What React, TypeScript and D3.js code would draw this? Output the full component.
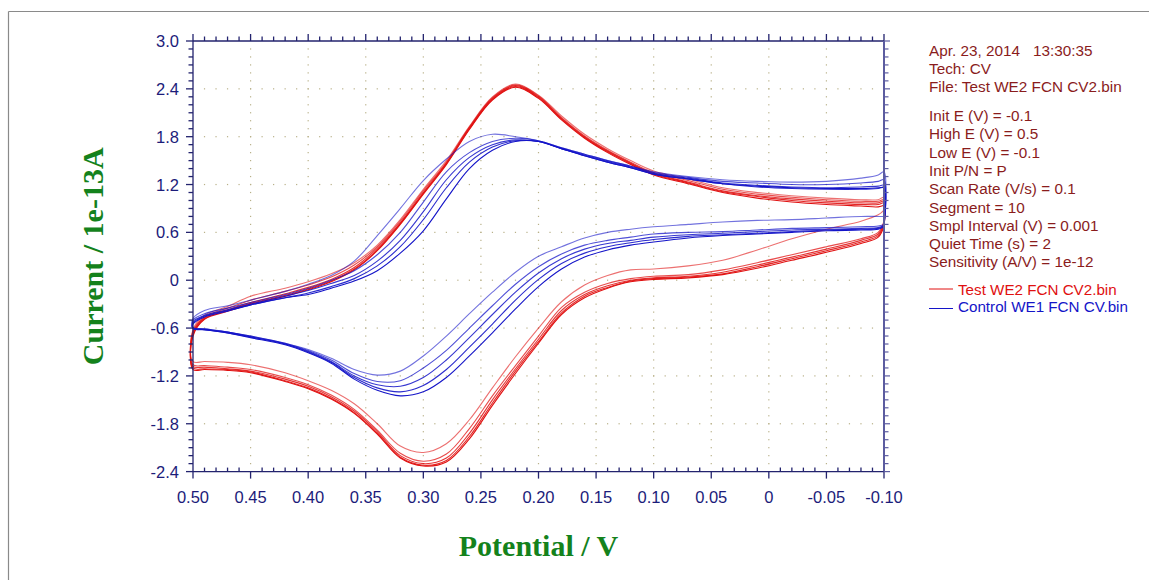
import React from "react";
import * as d3 from "d3";

// ---------- DATA ----------
const potentials = [0.5, 0.49, 0.47, 0.45, 0.42, 0.4, 0.38, 0.36, 0.34, 0.32, 0.3, 0.28, 0.26, 0.24, 0.22, 0.2, 0.18, 0.16, 0.14, 0.12, 0.1, 0.07, 0.04, 0.01, -0.02, -0.05, -0.08, -0.095, -0.1];

// Test WE2 (red) — upper branch (scan 0.5 -> -0.1), lower branch (scan -0.1 -> 0.5), both listed in potential order above
const redUpper1 = [-0.62, -0.44, -0.33, -0.2, -0.1, -0.02, 0.08, 0.22, 0.44, 0.76, 1.14, 1.5, 1.93, 2.3, 2.46, 2.32, 2.06, 1.83, 1.65, 1.5, 1.37, 1.27, 1.16, 1.1, 1.06, 1.03, 1.01, 1.01, 1.04];
const redUpper2 = [-0.64, -0.46, -0.35, -0.25, -0.14, -0.06, 0.04, 0.19, 0.42, 0.74, 1.12, 1.48, 1.92, 2.29, 2.45, 2.31, 2.04, 1.81, 1.63, 1.48, 1.35, 1.25, 1.14, 1.08, 1.04, 1.01, 0.99, 0.99, 1.01];
const redUpper3 = [-0.66, -0.47, -0.37, -0.28, -0.17, -0.09, 0.01, 0.16, 0.4, 0.72, 1.1, 1.47, 1.91, 2.28, 2.44, 2.3, 2.03, 1.8, 1.62, 1.47, 1.34, 1.23, 1.12, 1.06, 1.02, 0.99, 0.97, 0.97, 0.99];
const redUpper4 = [-0.68, -0.48, -0.38, -0.29, -0.19, -0.11, -0.01, 0.14, 0.38, 0.71, 1.09, 1.46, 1.9, 2.27, 2.43, 2.29, 2.02, 1.79, 1.61, 1.46, 1.33, 1.22, 1.11, 1.05, 1.0, 0.97, 0.95, 0.95, 0.97];
const redUpper5 = [-0.7, -0.49, -0.39, -0.3, -0.2, -0.12, -0.02, 0.13, 0.37, 0.7, 1.08, 1.45, 1.89, 2.26, 2.42, 2.28, 2.01, 1.78, 1.6, 1.45, 1.32, 1.21, 1.1, 1.03, 0.98, 0.95, 0.93, 0.92, 0.94];

const redLower1 = [-1.02, -1.02, -1.03, -1.06, -1.16, -1.26, -1.38, -1.55, -1.8, -2.08, -2.16, -2.05, -1.75, -1.35, -0.96, -0.6, -0.27, -0.06, 0.06, 0.13, 0.14, 0.18, 0.25, 0.38, 0.52, 0.64, 0.74, 0.82, 0.88];
const redLower2 = [-1.06, -1.07, -1.09, -1.12, -1.22, -1.31, -1.44, -1.62, -1.88, -2.17, -2.27, -2.18, -1.86, -1.45, -1.07, -0.7, -0.34, -0.15, -0.04, 0.02, 0.05, 0.07, 0.13, 0.22, 0.32, 0.42, 0.52, 0.6, 0.74];
const redLower3 = [-1.08, -1.09, -1.11, -1.14, -1.24, -1.33, -1.46, -1.64, -1.9, -2.2, -2.3, -2.23, -1.92, -1.5, -1.11, -0.74, -0.38, -0.18, -0.07, 0.0, 0.03, 0.05, 0.1, 0.19, 0.29, 0.39, 0.5, 0.58, 0.72];
const redLower4 = [-1.1, -1.11, -1.12, -1.15, -1.26, -1.35, -1.48, -1.66, -1.92, -2.22, -2.32, -2.26, -1.96, -1.54, -1.14, -0.77, -0.41, -0.2, -0.09, -0.01, 0.02, 0.04, 0.08, 0.17, 0.27, 0.37, 0.48, 0.56, 0.7];
const redLower5 = [-1.12, -1.12, -1.13, -1.16, -1.27, -1.36, -1.49, -1.67, -1.93, -2.23, -2.33, -2.28, -1.99, -1.57, -1.17, -0.79, -0.43, -0.22, -0.1, -0.02, 0.01, 0.03, 0.07, 0.15, 0.25, 0.35, 0.46, 0.54, 0.68];

// Control WE1 (blue)
const blueUpper1 = [-0.48, -0.38, -0.32, -0.25, -0.14, -0.05, 0.06, 0.24, 0.56, 0.9, 1.25, 1.52, 1.74, 1.83, 1.8, 1.75, 1.66, 1.58, 1.5, 1.43, 1.36, 1.3, 1.26, 1.24, 1.23, 1.24, 1.28, 1.32, 1.36];
const blueUpper2 = [-0.5, -0.42, -0.35, -0.28, -0.18, -0.1, 0.0, 0.12, 0.32, 0.6, 0.98, 1.36, 1.6, 1.74, 1.78, 1.75, 1.66, 1.58, 1.5, 1.43, 1.35, 1.29, 1.24, 1.22, 1.2, 1.2, 1.22, 1.24, 1.26];
const blueUpper3 = [-0.52, -0.44, -0.37, -0.3, -0.2, -0.13, -0.04, 0.06, 0.24, 0.5, 0.86, 1.26, 1.54, 1.7, 1.76, 1.74, 1.65, 1.57, 1.49, 1.42, 1.34, 1.28, 1.22, 1.19, 1.17, 1.16, 1.17, 1.18, 1.19];
const blueUpper4 = [-0.54, -0.45, -0.38, -0.31, -0.22, -0.16, -0.08, 0.02, 0.18, 0.42, 0.76, 1.16, 1.48, 1.67, 1.75, 1.74, 1.65, 1.56, 1.48, 1.41, 1.33, 1.27, 1.21, 1.17, 1.15, 1.14, 1.14, 1.15, 1.16];
const blueUpper5 = [-0.55, -0.46, -0.39, -0.31, -0.22, -0.18, -0.1, -0.01, 0.12, 0.34, 0.62, 1.02, 1.4, 1.63, 1.74, 1.74, 1.65, 1.56, 1.48, 1.41, 1.33, 1.27, 1.21, 1.18, 1.16, 1.15, 1.15, 1.16, 1.17];

const blueLower1 = [-0.6, -0.61, -0.65, -0.7, -0.79, -0.87, -0.98, -1.12, -1.19, -1.14, -0.95, -0.7, -0.42, -0.15, 0.1, 0.3, 0.42, 0.53, 0.6, 0.64, 0.67, 0.7, 0.73, 0.75, 0.76, 0.78, 0.8, 0.8, 0.8];
const blueLower2 = [-0.59, -0.61, -0.65, -0.7, -0.79, -0.88, -1.0, -1.17, -1.27, -1.26, -1.1, -0.88, -0.6, -0.32, -0.05, 0.17, 0.33, 0.44, 0.5, 0.54, 0.58, 0.6, 0.61, 0.63, 0.65, 0.66, 0.67, 0.68, 0.7];
const blueLower3 = [-0.6, -0.62, -0.65, -0.71, -0.8, -0.89, -1.02, -1.2, -1.31, -1.33, -1.22, -1.0, -0.72, -0.43, -0.15, 0.09, 0.27, 0.39, 0.46, 0.5, 0.54, 0.57, 0.59, 0.61, 0.63, 0.64, 0.65, 0.66, 0.69];
const blueLower4 = [-0.6, -0.62, -0.66, -0.71, -0.8, -0.9, -1.03, -1.22, -1.35, -1.4, -1.32, -1.12, -0.84, -0.55, -0.25, 0.01, 0.21, 0.34, 0.42, 0.47, 0.51, 0.55, 0.57, 0.59, 0.61, 0.63, 0.64, 0.65, 0.68];
const blueLower5 = [-0.61, -0.62, -0.66, -0.72, -0.81, -0.91, -1.04, -1.24, -1.38, -1.45, -1.4, -1.22, -0.95, -0.66, -0.36, -0.08, 0.14, 0.29, 0.38, 0.44, 0.48, 0.53, 0.56, 0.58, 0.6, 0.62, 0.63, 0.64, 0.67];

const xTicks = [0.5, 0.45, 0.4, 0.35, 0.3, 0.25, 0.2, 0.15, 0.1, 0.05, 0, -0.05, -0.1];
const xTickLabels = ["0.50", "0.45", "0.40", "0.35", "0.30", "0.25", "0.20", "0.15", "0.10", "0.05", "0", "-0.05", "-0.10"];
const yTicks = [3.0, 2.4, 1.8, 1.2, 0.6, 0, -0.6, -1.2, -1.8, -2.4];
const yTickLabels = ["3.0", "2.4", "1.8", "1.2", "0.6", "0", "-0.6", "-1.2", "-1.8", "-2.4"];

const headerLines = ["Tech: CV", "File: Test WE2 FCN CV2.bin"];
const paramLines = ["Init E (V) = -0.1", "High E (V) = 0.5", "Low E (V) = -0.1", "Init P/N = P", "Scan Rate (V/s) = 0.1", "Segment = 10", "Smpl Interval (V) = 0.001", "Quiet Time (s) = 2", "Sensitivity (A/V) = 1e-12"];
const legendNames = ["Test WE2 FCN CV2.bin", "Control WE1 FCN CV.bin"];

// ---------- LAYOUT ----------
const L = 193, R = 884, T = 41, B = 471.6;
const AXIS = "#23236e";
const LABEL = "#1c1c7a";
const GREEN = "#14821c";
const INFO = "#8a1c1c";
const RED = "#e01010";
const BLUE = "#1414c8";
const SANS = "'Liberation Sans', Arial, sans-serif";
const SERIF = "'Liberation Serif', 'Times New Roman', serif";

const x = d3.scaleLinear().domain([0.5, -0.1]).range([L, R]);
const y = d3.scaleLinear().domain([3.0, -2.4]).range([T, B]);

type Pt = [number, number];

function loopPath(upper: number[], lower: number[], nextLowerStart: number | null): Pt[] {
  const pts: Pt[] = [];
  for (let i = potentials.length - 1; i >= 0; i--) pts.push([potentials[i], lower[i]]);
  for (let i = 0; i < potentials.length; i++) pts.push([potentials[i], upper[i]]);
  if (nextLowerStart !== null) pts.push([potentials[potentials.length - 1], nextLowerStart]);
  return pts;
}

const line = d3
  .line<Pt>()
  .x((d) => x(d[0]))
  .y((d) => y(d[1]))
  .curve(d3.curveCatmullRom.alpha(0.5));

const redUppers = [redUpper1, redUpper2, redUpper3, redUpper4, redUpper5];
const redLowers = [redLower1, redLower2, redLower3, redLower4, redLower5];
const blueUppers = [blueUpper1, blueUpper2, blueUpper3, blueUpper4, blueUpper5];
const blueLowers = [blueLower1, blueLower2, blueLower3, blueLower4, blueLower5];
const opac = [0.6, 0.75, 0.85, 0.9, 1];

function seriesPaths(ups: number[][], lows: number[][]) {
  return ups.map((u, k) => {
    const next = k < ups.length - 1 ? lows[k + 1][lows[k + 1].length - 1] : null;
    return line(loopPath(u, lows[k], next)) || "";
  });
}

export default function App() {
  const xMinor = d3.range(0, 61).map((i) => 0.5 - i * 0.01);
  const yMinor = d3.range(0, 55).map((i) => 3.0 - i * 0.1);
  const redPaths = seriesPaths(redUppers, redLowers);
  const bluePaths = seriesPaths(blueUppers, blueLowers);

  return (
    <svg width={1149} height={580} style={{ position: "absolute", left: 0, top: 0, background: "#fff" }}>
      <rect x={0} y={0} width={1149} height={580} fill="#fff" />
      {/* outer frame */}
      <line x1={8.5} y1={11.5} x2={1149} y2={11.5} stroke="#8a8a8a" strokeWidth={1.2} />
      <line x1={8.5} y1={11.5} x2={8.5} y2={580} stroke="#8a8a8a" strokeWidth={1.2} />

      {/* dotted grid */}
      <g fill="#b8b088">
        {xTicks.slice(1, -1).map((t) =>
          yMinor.filter((v) => v < 2.99 && v > -2.39).map((v) => (
            <rect key={`v${t}_${v}`} x={x(t) - 0.6} y={y(v) - 0.6} width={1.2} height={1.2} />
          ))
        )}
        {yTicks.slice(1, -1).map((t) =>
          xMinor.filter((v) => v < 0.499 && v > -0.099).map((v) => (
            <rect key={`h${t}_${v}`} x={x(v) - 0.6} y={y(t) - 0.6} width={1.2} height={1.2} />
          ))
        )}
      </g>

      {/* curves */}
      <g fill="none" strokeWidth={1.1} strokeLinejoin="round">
        {redPaths.map((d, i) => (
          <path key={`r${i}`} d={d} stroke={RED} strokeOpacity={opac[i]} />
        ))}
        {bluePaths.map((d, i) => (
          <path key={`b${i}`} d={d} stroke={BLUE} strokeOpacity={opac[i]} />
        ))}
      </g>

      {/* axes */}
      <g stroke={AXIS} strokeWidth={1.3}>
        <line x1={L} y1={T} x2={R} y2={T} />
        <line x1={L} y1={B} x2={R} y2={B} />
        <line x1={L} y1={T} x2={L} y2={B} />
        {xMinor.map((v, i) => (
          <line key={`tt${i}`} x1={x(v)} x2={x(v)} y1={T} y2={T - (i % 5 === 0 ? 7 : 4.5)} />
        ))}
        {xMinor.map((v, i) =>
          i % 5 === 0 ? (
            <line key={`bt${i}`} x1={x(v)} x2={x(v)} y1={B} y2={B + 7} />
          ) : (
            <line key={`bt${i}`} x1={x(v)} x2={x(v)} y1={B} y2={B - 4} />
          )
        )}
        {yMinor.map((v, i) => (
          <line key={`lt${i}`} y1={y(v)} y2={y(v)} x1={L} x2={L - (i % 6 === 0 ? 7 : 4.5)} />
        ))}
      </g>
      <g stroke="#5c5ca0">
        <line x1={R} y1={T} x2={R} y2={B} strokeWidth={2} />
        {yMinor.map((v, i) => (
          <line key={`rt${i}`} y1={y(v)} y2={y(v)} x1={R} x2={R + (i % 6 === 0 ? 6 : 4.5)} strokeWidth={1.2} />
        ))}
      </g>

      {/* tick labels */}
      <g fill={LABEL} fontFamily={SANS} fontSize={16.5}>
        {xTicks.map((t, i) => (
          <text key={`xl${i}`} x={x(t)} y={503} textAnchor="middle">
            {xTickLabels[i]}
          </text>
        ))}
        {yTicks.map((t, i) => (
          <text key={`yl${i}`} x={179} y={y(t) + 6} textAnchor="end">
            {yTickLabels[i]}
          </text>
        ))}
      </g>

      {/* axis titles */}
      <text x={(L + R) / 2} y={556} textAnchor="middle" fill={GREEN} fontFamily={SERIF} fontWeight="bold" fontSize={30}>
        Potential / V
      </text>
      <text
        transform={`translate(103, ${(T + B) / 2}) rotate(-90)`}
        textAnchor="middle"
        fill={GREEN}
        fontFamily={SERIF}
        fontWeight="bold"
        fontSize={30}
      >
        Current / 1e-13A
      </text>

      {/* info block */}
      <g fill={INFO} fontFamily={SANS} fontSize={15.3}>
        <text x={929} y={55.5}>Apr. 23, 2014</text>
        <text x={1033} y={55.5}>13:30:35</text>
        {headerLines.map((s, i) => (
          <text key={`h${i}`} x={929} y={73.5 + i * 18}>
            {s}
          </text>
        ))}
        {paramLines.map((s, i) => (
          <text key={`p${i}`} x={929} y={121 + i * 18.3}>
            {s}
          </text>
        ))}
      </g>

      {/* legend */}
      <g fontFamily={SANS} fontSize={15.2}>
        <line x1={929} x2={953} y1={289} y2={289} stroke={RED} strokeWidth={1} />
        <text x={958} y={294.5} fill={RED}>{legendNames[0]}</text>
        <line x1={929} x2={953} y1={308.5} y2={308.5} stroke={BLUE} strokeWidth={1} />
        <text x={958} y={312} fill={BLUE}>{legendNames[1]}</text>
      </g>
    </svg>
  );
}
